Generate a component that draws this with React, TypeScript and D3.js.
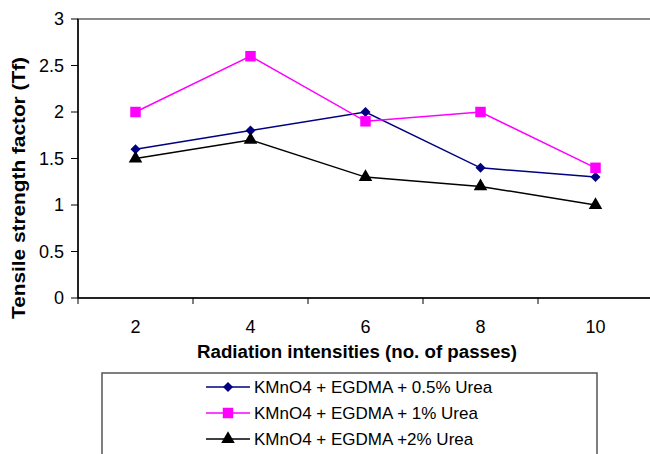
import React from "react";
import * as d3 from "d3";

const categories = ["2", "4", "6", "8", "10"];
const seriesNames = [
  "KMnO4 + EGDMA + 0.5% Urea",
  "KMnO4 + EGDMA + 1% Urea",
  "KMnO4 + EGDMA +2% Urea",
];
const urea05 = [1.6, 1.8, 2.0, 1.4, 1.3];
const urea1 = [2.0, 2.6, 1.9, 2.0, 1.4];
const urea2 = [1.5, 1.7, 1.3, 1.2, 1.0];
const yTicks = [0, 0.5, 1, 1.5, 2, 2.5, 3];

const colors = ["#000080", "#ff00ff", "#000000"];
const shapes = [d3.symbolSquare, d3.symbolSquare, d3.symbolTriangle];
const rotations = [45, 0, 0];
const sizes = [50, 110, 80];

const W = 650;
const H = 454;
const left = 78;
const right = 653;
const top = 19;
const bottom = 298;

export default function App() {
  const x = d3.scaleBand<string>().domain(categories).range([left, right]);
  const y = d3.scaleLinear().domain([0, 3]).range([bottom, top]);
  const series = [urea05, urea1, urea2];
  const cx = (i: number) => (x(categories[i]) as number) + x.bandwidth() / 2;
  const line = d3
    .line<number>()
    .x((_, i) => cx(i))
    .y((d) => y(d));
  const font = "Liberation Sans, Arial, sans-serif";
  const marker = (k: number) => d3.symbol().type(shapes[k]).size(sizes[k])() || "";

  return (
    <svg
      width={W}
      height={H}
      style={{ position: "absolute", left: 0, top: 0, background: "#fff" }}
      fontFamily={font}
    >
      <rect x={0} y={0} width={W} height={H} fill="#fff" />
      {/* plot area border */}
      <rect
        x={left}
        y={top}
        width={right - left}
        height={bottom - top}
        fill="none"
        stroke="#8a8a8a"
        strokeWidth={2}
      />
      {/* y axis */}
      <line x1={left} x2={left} y1={top} y2={bottom} stroke="#000" strokeWidth={1.5} />
      {yTicks.map((t) => (
        <g key={t}>
          <line x1={left - 7} x2={left} y1={y(t)} y2={y(t)} stroke="#000" strokeWidth={1} />
          <text
            x={64}
            y={y(t)}
            textAnchor="end"
            dominantBaseline="central"
            fontSize={18}
            fill="#000"
          >
            {t}
          </text>
        </g>
      ))}
      {/* x axis */}
      <line x1={left} x2={right} y1={bottom} y2={bottom} stroke="#000" strokeWidth={1.5} />
      {categories.map((c, i) => (
        <g key={c}>
          <line
            x1={x(c) as number}
            x2={x(c) as number}
            y1={bottom}
            y2={bottom + 6}
            stroke="#000"
            strokeWidth={1}
          />
          <text
            x={cx(i)}
            y={327}
            textAnchor="middle"
            dominantBaseline="central"
            fontSize={18}
            fill="#000"
          >
            {c}
          </text>
        </g>
      ))}
      <text
        x={357}
        y={352}
        textAnchor="middle"
        dominantBaseline="central"
        fontSize={18}
        fontWeight="bold"
        fill="#000"
        textLength={320}
        lengthAdjust="spacingAndGlyphs"
      >
        Radiation intensities (no. of passes)
      </text>
      <text
        transform={`translate(19,188) rotate(-90)`}
        textAnchor="middle"
        dominantBaseline="central"
        fontSize={18}
        fontWeight="bold"
        fill="#000"
        textLength={262}
        lengthAdjust="spacingAndGlyphs"
      >
        Tensile strength factor (Tf)
      </text>
      {/* series */}
      {series.map((s, k) => (
        <g key={k}>
          <path d={line(s) || ""} fill="none" stroke={colors[k]} strokeWidth={1.5} />
          {s.map((v, i) => (
            <path
              key={i}
              d={marker(k)}
              transform={`translate(${cx(i)},${y(v)}) rotate(${rotations[k]})`}
              fill={colors[k]}
            />
          ))}
        </g>
      ))}
      {/* legend */}
      <rect x={102} y={373} width={495} height={100} fill="#fff" stroke="#555" strokeWidth={1.5} />
      {seriesNames.map((n, k) => {
        const ly = [387, 413, 439][k];
        return (
          <g key={n}>
            <line x1={206} x2={250} y1={ly} y2={ly} stroke={colors[k]} strokeWidth={1.5} />
            <path d={marker(k)} transform={`translate(228,${ly}) rotate(${rotations[k]})`} fill={colors[k]} />
            <text x={254} y={ly} dominantBaseline="central" fontSize={17} fill="#000">
              {n}
            </text>
          </g>
        );
      })}
    </svg>
  );
}
